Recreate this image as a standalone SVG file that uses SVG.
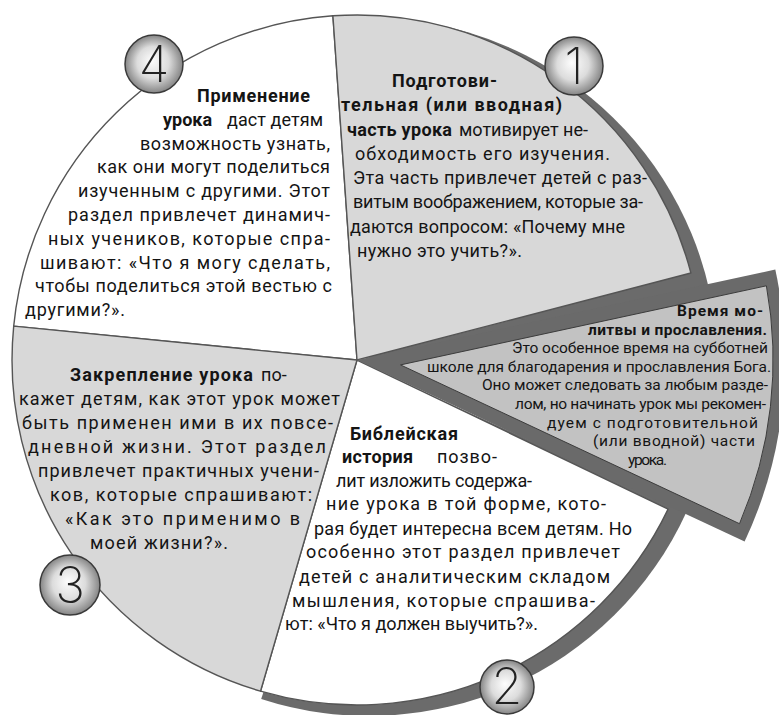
<svg xmlns="http://www.w3.org/2000/svg" width="779" height="715" viewBox="0 0 779 715">
<defs>
<radialGradient id="ball" cx="50%" cy="50%" r="50%" fx="46%" fy="44%">
<stop offset="0" stop-color="#fdfdfd"/>
<stop offset="0.55" stop-color="#dcdcdc"/>
<stop offset="1" stop-color="#858585"/>
</radialGradient>
<style>
.t{font-family:Roboto,"Noto Sans","DejaVu Sans",sans-serif;font-size:18px;fill:#141414}
.b{font-weight:700}
.w{font-size:15.5px}
.sec{stroke:#555;stroke-width:1.4;stroke-linejoin:round}
.num{font-family:Inter,Lato,"DejaVu Sans",sans-serif;font-weight:200;font-size:50px;fill:#222;text-anchor:middle}
.ball{fill:url(#ball);stroke:#3a3a3a;stroke-width:1.5}
</style>
</defs>
<rect width="779" height="715" fill="#fff"/>
<g id="rims" fill="#6b6b6b">
<path d="M369 367 L344.7 18.9 A349 349 0 0 1 710.1 293.2 Z"/>
<path d="M369 367 L686.6 511.7 A349 349 0 0 1 261.2 698.9 Z"/>
</g>
<g id="sector4">
<path class="sec" fill="#fff" d="M357 360 L332.9 15.8 A345 345 0 0 0 13.7 326.1 Z"/>
<text class="t b" x="197" y="102" textLength="113" lengthAdjust="spacing">Применение</text>
<text class="t b" x="163" y="126">урока</text>
<text class="t" x="227" y="126" textLength="96" lengthAdjust="spacing">даст детям</text>
<text class="t" x="140" y="150" textLength="190" lengthAdjust="spacing">возможность  узнать,</text>
<text class="t" x="97" y="173" textLength="233" lengthAdjust="spacing">как они могут поделиться</text>
<text class="t" x="78" y="197" textLength="252" lengthAdjust="spacing">изученным с другими. Этот</text>
<text class="t" x="68" y="221" textLength="262" lengthAdjust="spacing">раздел привлечет динамич-</text>
<text class="t" x="48" y="245" textLength="282" lengthAdjust="spacing">ных учеников, которые спра-</text>
<text class="t" x="40" y="269" textLength="290" lengthAdjust="spacing">шивают: «Что я могу сделать,</text>
<text class="t" x="35" y="292" textLength="297" lengthAdjust="spacing">чтобы поделиться этой вестью с</text>
<text class="t" x="25" y="316" textLength="100" lengthAdjust="spacing">другими?».</text>
</g>
<g id="sector1">
<path class="sec" fill="#d8d8d8" d="M357 360 L332.9 15.8 A345 345 0 0 1 690.9 273 Z"/>
<text class="t b" x="392" y="87" textLength="105" lengthAdjust="spacing">Подготови-</text>
<text class="t b" x="341" y="111" textLength="221" lengthAdjust="spacing">тельная  (или  вводная)</text>
<text class="t b" x="347" y="136" textLength="105" lengthAdjust="spacing">часть урока</text>
<text class="t" x="459" y="136" textLength="129" lengthAdjust="spacing">мотивирует не-</text>
<text class="t" x="355" y="160" textLength="255" lengthAdjust="spacing">обходимость   его   изучения.</text>
<text class="t" x="353" y="184" textLength="294" lengthAdjust="spacing">Эта часть привлечет детей с раз-</text>
<text class="t" x="353" y="208" textLength="290" lengthAdjust="spacing">витым воображением, которые за-</text>
<text class="t" x="350" y="233" textLength="275" lengthAdjust="spacing">даются вопросом: «Почему мне</text>
<text class="t" x="357" y="257" textLength="165" lengthAdjust="spacing">нужно это учить?».</text>
</g>
<g id="sector2">
<path class="sec" fill="#fff" d="M357 360 L668.1 509.1 A345 345 0 0 1 260.5 691.2 Z"/>
<text class="t b" x="350" y="440" textLength="108" lengthAdjust="spacing">Библейская</text>
<text class="t b" x="342" y="463" textLength="71" lengthAdjust="spacing">история</text>
<text class="t" x="437" y="463" textLength="60" lengthAdjust="spacing">позво-</text>
<text class="t" x="336" y="487" textLength="196" lengthAdjust="spacing">лит изложить содержа-</text>
<text class="t" x="326" y="510" textLength="280" lengthAdjust="spacing">ние урока в той форме, кото-</text>
<text class="t" x="314" y="535" textLength="318" lengthAdjust="spacing">рая будет интересна всем детям. Но</text>
<text class="t" x="306" y="558" textLength="314" lengthAdjust="spacing">особенно  этот  раздел  привлечет</text>
<text class="t" x="299" y="583" textLength="311" lengthAdjust="spacing">детей  с  аналитическим  складом</text>
<text class="t" x="292" y="607" textLength="303" lengthAdjust="spacing">мышления,  которые  спрашива-</text>
<text class="t" x="285" y="630" textLength="253" lengthAdjust="spacing">ют: «Что я должен выучить?».</text>
</g>
<g id="sector3">
<path class="sec" fill="#d8d8d8" d="M357 360 L260.5 691.2 A345 345 0 0 1 13.7 326.1 Z"/>
<text class="t b" x="70" y="381" textLength="183" lengthAdjust="spacing">Закрепление урока</text>
<text class="t" x="261" y="381">по-</text>
<text class="t" x="19" y="405" textLength="321" lengthAdjust="spacing">кажет детям, как этот урок может</text>
<text class="t" x="22" y="429" textLength="311" lengthAdjust="spacing">быть применен ими в их повсе-</text>
<text class="t" x="28" y="453" textLength="298" lengthAdjust="spacing">дневной  жизни.  Этот  раздел</text>
<text class="t" x="38" y="477" textLength="281" lengthAdjust="spacing">привлечет практичных учени-</text>
<text class="t" x="50" y="501" textLength="262" lengthAdjust="spacing">ков,  которые  спрашивают:</text>
<text class="t" x="65" y="525" textLength="235" lengthAdjust="spacing">«Как  это  применимо  в</text>
<text class="t" x="90" y="549" textLength="138" lengthAdjust="spacing">моей жизни?».</text>
</g>
<g id="wedge">
<path fill="#6a6a6a" d="M357 360 L775.3 269.6 A428 428 0 0 1 744.6 541.6 Z"/>
<path fill="#c2c2c2" stroke="#3c3c3c" stroke-width="1" d="M400.5 364.9 L766.4 285.8 A416 416 0 0 1 739.5 523.7 Z"/>
<text class="t w b" x="677" y="316" textLength="86" lengthAdjust="spacing">Время  мо-</text>
<text class="t w b" x="588" y="334.6" textLength="179" lengthAdjust="spacing">литвы  и  прославления.</text>
<text class="t w" x="512" y="353" textLength="256" lengthAdjust="spacing">Это особенное время на субботней</text>
<text class="t w" x="427" y="372" textLength="344" lengthAdjust="spacing">школе для благодарения и прославления Бога.</text>
<text class="t w" x="482" y="390" textLength="286" lengthAdjust="spacing">Оно может следовать за любым разде-</text>
<text class="t w" x="515" y="409" textLength="251" lengthAdjust="spacing">лом, но начинать урок мы рекомен-</text>
<text class="t w" x="547" y="428" textLength="211" lengthAdjust="spacing">дуем  с  подготовительной</text>
<text class="t w" x="593" y="446" textLength="162" lengthAdjust="spacing">(или  вводной)  части</text>
<text class="t w" x="628" y="465" textLength="39" lengthAdjust="spacing">урока.</text>
</g>
<g id="badge4"><circle class="ball" cx="154" cy="64" r="29"/><text class="num" x="154" y="82">4</text></g>
<g id="badge1"><circle class="ball" cx="574" cy="66" r="29"/><text class="num" x="574" y="84">1</text></g>
<g id="badge3"><circle class="ball" cx="70" cy="585" r="30"/><text class="num" x="70" y="603">3</text></g>
<g id="badge2"><circle class="ball" cx="507" cy="687" r="27"/><text class="num" x="507" y="704">2</text></g>
</svg>
